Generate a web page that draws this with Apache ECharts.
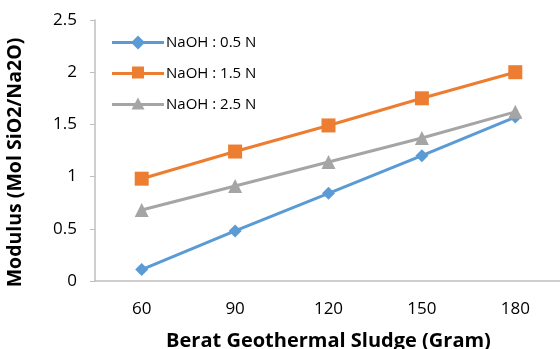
<!DOCTYPE html>
<html><head><meta charset="utf-8">
<script src="https://cdn.jsdelivr.net/npm/echarts@6/dist/echarts.min.js"></script>
<style>html,body{margin:0;padding:0;background:#fff}#c{width:560px;height:349px}</style>
</head><body><div id="c"></div>
<script>
const categories = ['60','90','120','150','180'];
const naoh05 = [0.11, 0.48, 0.84, 1.20, 1.57];
const naoh15 = [0.98, 1.24, 1.49, 1.75, 2.00];
const naoh25 = [0.68, 0.91, 1.14, 1.37, 1.62];
const seriesNames = ['NaOH : 0.5 N','NaOH : 1.5 N','NaOH : 2.5 N'];
const font = '"Open Sans", Lato, sans-serif';
const strip = 'M0,5.5 H52 V8.5 H0 Z ';
const legendIcons = [
  'path://' + strip + 'M26,0 L33,7 L26,14 L19,7 Z',
  'path://' + strip + 'M20,0 H32 V12 H20 Z M0,14 H0.01 V14 Z',
  'path://' + strip + 'M26,0 L32.5,12 L19.5,12 Z M0,14 H0.01 V14 Z'
];
const chart = echarts.init(document.getElementById('c'));
function mk(name, data, color, symbol, size){
  return {name, type:'line', data, symbol, symbolSize:size, showAllSymbol:true,
    lineStyle:{color, width:3}, itemStyle:{color}, emphasis:{disabled:true}};
}
chart.setOption({
  animation:false,
  grid:{left:95, top:20, width:467, height:261, containLabel:false, outerBoundsMode:'none'},
  legend:{orient:'vertical', left:107, top:30, itemGap:16, itemWidth:52, itemHeight:14,
    data:seriesNames.map((n,i)=>({name:n, icon:legendIcons[i]})),
    textStyle:{fontFamily:font, fontSize:15, color:'#000', padding:[0,0,0,-3]}},
  xAxis:{type:'category', data:categories, boundaryGap:true,
    name:'Berat Geothermal Sludge (Gram)', nameLocation:'middle', nameGap:50,
    nameTextStyle:{fontFamily:font, fontSize:20, fontWeight:'bold', color:'#000'},
    axisLine:{lineStyle:{color:'#bfbfbf', width:1.5}}, axisTick:{show:false},
    axisLabel:{fontFamily:font, fontSize:17, color:'#000', margin:20}},
  yAxis:{type:'value', min:0, max:2.5, interval:0.5,
    name:'Modulus (Mol SiO2/Na2O)', nameLocation:'middle', nameGap:70,
    nameTextStyle:{fontFamily:font, fontSize:19.5, fontWeight:'bold', color:'#000', padding:[0,24,0,0]},
    axisLine:{show:true, lineStyle:{color:'#bfbfbf', width:1.5}},
    axisTick:{show:true, length:5, lineStyle:{color:'#bfbfbf'}},
    splitLine:{show:false},
    axisLabel:{fontFamily:font, fontSize:17, color:'#000', margin:18}},
  series:[
    mk(seriesNames[0], naoh05, '#5b9bd5', 'diamond', 13),
    mk(seriesNames[1], naoh15, '#ed7d31', 'rect', 14),
    mk(seriesNames[2], naoh25, '#a5a5a5', 'triangle', 14)
  ]
});
</script></body></html>
